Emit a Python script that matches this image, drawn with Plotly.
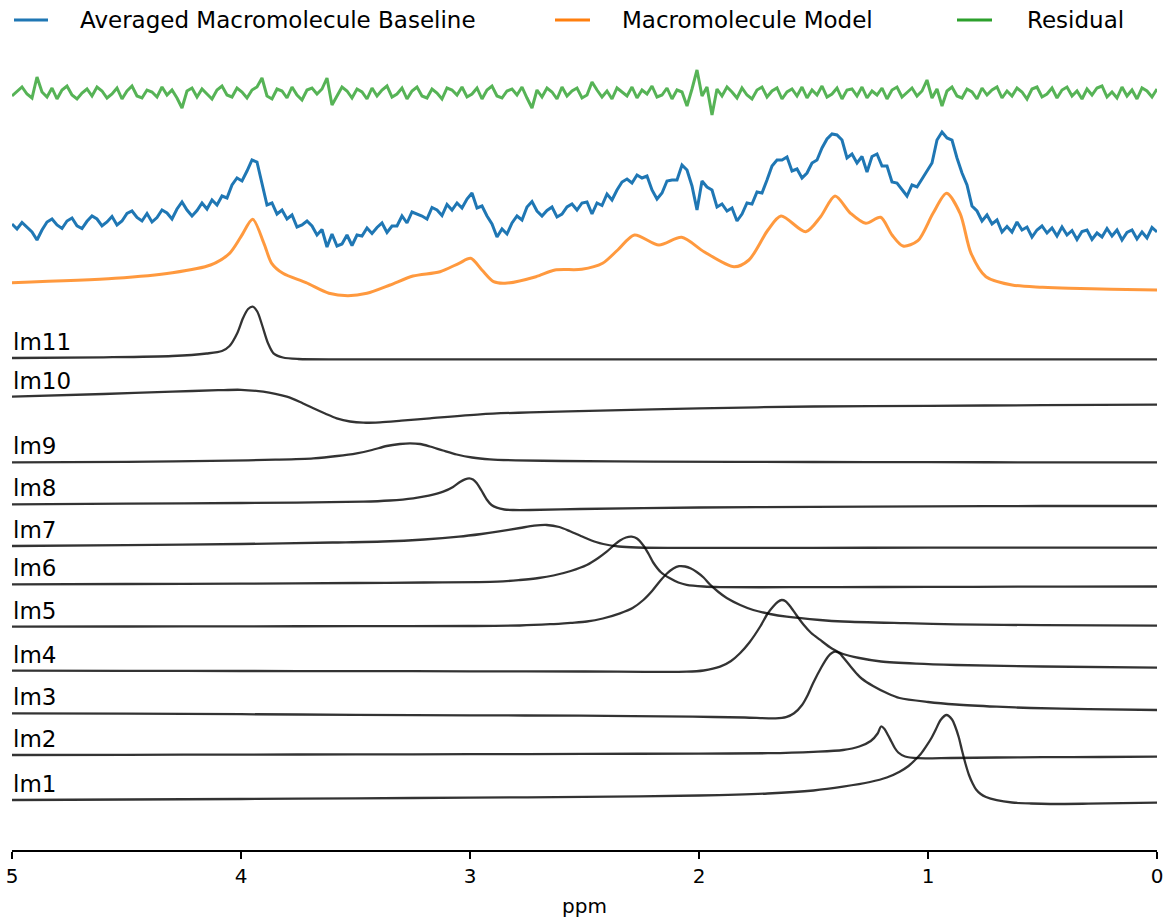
import numpy as np
import plotly.graph_objects as go

# ---------------- data ----------------
# measured spectra on a uniform ppm grid (5 -> 0 ppm)
n_points = 230
ppm_grid = np.linspace(5.0, 0.0, n_points)

baseline_avg = [
    626, 621, 627.5, 623, 618, 610, 620, 628, 631, 625,
    621.5, 629, 632, 624.2, 621.5, 628.7, 634, 631, 624.2, 628,
    633.5, 625, 629, 636.5, 639, 632.5, 629, 636.5, 628, 632.5,
    640, 637, 631, 641, 648, 640, 634, 639.5, 647, 641,
    650, 645, 654, 652, 665, 672, 669, 679, 690, 688,
    665, 645, 647, 636, 640, 631, 635, 623, 625, 629,
    624, 615, 620.5, 603, 616, 604, 606, 615, 604.5, 615,
    614, 622, 616.5, 622.5, 627, 617.5, 624, 624, 634, 627,
    638, 636, 634, 631, 642.5, 640, 634.5, 645.5, 640, 647,
    642, 651, 657, 642, 644, 634, 626, 613, 621, 616,
    627, 634, 630, 643, 648.5, 639, 634, 639.5, 643, 633,
    636, 643, 646, 640, 647, 648, 636, 647, 644.5, 656,
    650, 660, 668, 671, 667, 675, 672, 674, 660, 651,
    657, 669, 670, 670, 685, 680, 664, 640, 669, 663,
    660, 643, 646, 639, 642, 629, 636, 647, 646, 658,
    657, 670, 684, 690, 690, 693, 679, 681, 672, 677,
    687, 690, 702, 711, 716, 715, 710, 692, 696, 687,
    693.5, 678, 693.5, 696, 684, 684, 668, 667, 660, 654,
    665, 663, 671, 679, 687, 710, 718, 712, 710, 692,
    677, 665, 644, 639, 629, 635, 626, 630, 618, 623.5,
    618, 628, 620, 623, 613, 620, 624, 617, 622, 614,
    623, 615, 619.5, 610.5, 618.5, 620, 610.5, 617, 613, 621.5,
    614, 620, 610, 617.5, 620, 611, 618, 612, 622.5, 618,
]

residual = [
    -3, 2, 6, -1, -5, 16, 1, -4, 5, -6,
    3, 7, -2, -6, 0, 4, -3, 6, 2, -5,
    -1, 5, -6, 2, 7, -3, -5, 3, 1, -4,
    6, -2, 3, -5, -15, 2, 5, -4, 4, -1,
    -6, 3, 7, -2, -4, 5, 1, -5, 3, 6,
    15, -3, -6, 4, 2, -5, 6, -2, -7, 3,
    5, -1, 4, 15, -12, -3, 6, 2, -5, 4,
    1, -6, 5, -3, 3, 7, -4, -1, 5, -6,
    2, 6, -3, -5, 4, 0, -6, 5, 3, -2,
    6, -4, -1, 5, -6, 3, 7, -3, -5, 2,
    4, -2, 6, -5, -15, 3, -4, 5, 1, -6,
    6, -3, 2, 5, -5, -2, 11, 3, -4, 2,
    -6, 5, 1, -3, 6, -5, 3, -1, 7, -4,
    -2, 5, -6, 3, 1, -13, 4, 23, -3, 6,
    -22, 4, -3, 6, 1, -5, 5, -2, -6, 3,
    6, -4, 2, 5, -6, 1, 4, -3, 6, -5,
    3, -2, 7, -4, -1, 5, -6, 3, 4, -3,
    6, -5, 2, -2, 5, -6, 3, 6, -4, 1,
    5, -3, 2, 13, -5, 4, -13, 2, 6, -3,
    -5, 4, 1, -6, 5, -2, 3, 6, -5, 2,
    -3, 5, 1, -6, 4, 6, -4, -1, 5, -5,
    3, 6, -3, 2, -6, 4, -2, 5, 7, -4,
    1, -5, 6, -3, 3, -6, 5, 2, -4, 4,
]
residual_offset = 757

model_ppm = [5.0, 4.55, 4.30, 4.133, 4.05, 4.0, 3.949, 3.90, 3.866, 3.817,
             3.716, 3.616, 3.533, 3.45, 3.349, 3.249, 3.131, 3.048, 2.997, 2.948,
             2.897, 2.847, 2.712, 2.629, 2.512, 2.421, 2.355, 2.282, 2.175, 2.076,
             1.978, 1.847, 1.782, 1.699, 1.642, 1.534, 1.469, 1.406, 1.338, 1.272,
             1.207, 1.157, 1.109, 1.044, 0.978, 0.919, 0.86, 0.812, 0.747, 0.633,
             0.5, 0.384, 0.2, 0.0]
model_val = [567.3, 571.7, 577.3, 585, 596.7, 613.3, 630.7, 606.7, 586.7, 576.7,
             567.3, 556.7, 554.3, 556.7, 565, 574, 578.3, 586.7, 591.7, 580,
             568.3, 566.7, 573.3, 580, 580.7, 586.7, 600, 615, 605, 612.7,
             598.3, 583.3, 590, 620, 634, 618.3, 633.3, 654, 636.7, 626.7,
             632.7, 615, 604, 609.3, 636.7, 656.7, 636.7, 596.7, 573.3, 565,
             562.8, 561.7, 560.8, 560]

component_names = ["lm1", "lm2", "lm3", "lm4", "lm5", "lm6",
                   "lm7", "lm8", "lm9", "lm10", "lm11"]

lm11_ppm = [5.0, 4.6, 4.3, 4.15, 4.083, 4.05, 4.016, 3.991, 3.969, 3.949,
            3.929, 3.908, 3.882, 3.858, 3.817, 3.75, 3.5, 3.0, 2.5, 2.0,
            1.5, 1.0, 0.5, 0.0]
lm11_val = [492, 492.7, 494, 496.5, 499, 504, 517, 532, 541, 543.3,
            538.5, 525, 506.7, 496.7, 492.5, 491, 490.7, 490.7, 490.7, 490.7,
            490.7, 490.7, 490.7, 490.7]

lm10_ppm = [5.0, 4.6, 4.3, 4.1, 4.0, 3.903, 3.85, 3.80, 3.742, 3.684,
            3.633, 3.582, 3.524, 3.466, 3.393, 3.3, 3.175, 2.956, 2.738, 2.432,
            2.0, 1.5, 1.0, 0.5, 0.0]
lm10_val = [453.3, 456, 458.3, 459.8, 460.2, 458.3, 456.2, 453.3, 448, 441.7,
            436.5, 431.7, 428.5, 427.3, 427.7, 429.3, 431.7, 435.7, 437.7, 439.3,
            441.7, 443.5, 444.2, 444.8, 445.3]

lm9_ppm = [5.0, 4.5, 4.048, 3.85, 3.684, 3.58, 3.495, 3.428, 3.364, 3.306,
           3.262, 3.218, 3.175, 3.118, 3.058, 2.991, 2.913, 2.8, 2.6, 2.2,
           1.5, 1.0, 0.5, 0.0]
lm9_val = [387.7, 388.2, 389.3, 390.3, 391.7, 394, 396.7, 400, 404, 406,
           406.7, 406, 403.5, 399.5, 395.5, 392.5, 390.7, 389.7, 389, 388.3,
           388, 387.8, 387.7, 387.7]

lm8_ppm = [5.0, 4.5, 4.0, 3.466, 3.35, 3.248, 3.18, 3.117, 3.074, 3.044,
           3.022, 3.003, 2.987, 2.971, 2.95, 2.927, 2.906, 2.883, 2.85, 2.811,
           2.738, 2.52, 2.0, 1.5, 1.0, 0.5, 0.0]
lm8_val = [345.7, 346.3, 347, 348.3, 349.5, 351.7, 354.3, 358.3, 363, 368,
           370.7, 371.7, 370.5, 367, 359.5, 350.5, 345, 342.3, 340.5, 340,
           340, 341, 342.5, 343.2, 343.7, 344, 344]

lm7_ppm = [5.0, 4.5, 4.0, 3.6, 3.38, 3.2, 3.048, 2.95, 2.88, 2.782,
           2.72, 2.665, 2.61, 2.563, 2.52, 2.49, 2.45, 2.418, 2.35, 2.272,
           2.1, 1.5, 1.0, 0.5, 0.0]
lm7_val = [304, 304.8, 306, 307.5, 308.5, 310.5, 313.3, 316, 318.3, 322,
           324.3, 325, 323, 318.8, 314.5, 311.5, 308, 306, 303.5, 302.5,
           302.2, 302.2, 302.3, 302.3, 302.3]

lm6_ppm = [5.0, 4.5, 4.0, 3.5, 3.2, 2.88, 2.782, 2.7, 2.636, 2.56,
           2.49, 2.44, 2.403, 2.37, 2.345, 2.319, 2.294, 2.271, 2.243, 2.22,
           2.20, 2.165, 2.127, 2.09, 2.054, 1.98, 1.908, 1.6, 1.2, 0.8,
           0.4, 0.0]
lm6_val = [265.7, 266, 266.4, 267, 267.5, 268.3, 270, 272, 274.5, 279,
           285, 292, 298.3, 305, 309.5, 312.5, 313.3, 311.5, 304.5, 296,
           287.5, 277.5, 271.7, 267.5, 265.2, 263.5, 262.9, 262.8, 263, 263.2,
           263.4, 263.5]

lm5_ppm = [5.0, 4.5, 4.0, 3.5, 3.0, 2.782, 2.65, 2.56, 2.49, 2.42,
           2.345, 2.29, 2.243, 2.205, 2.17, 2.14, 2.112, 2.087, 2.061, 2.035,
           2.01, 1.98, 1.952, 1.915, 1.879, 1.82, 1.763, 1.69, 1.617, 1.472,
           1.371, 1.1, 0.878, 0.5, 0.0]
lm5_val = [223.3, 223.5, 223.7, 223.8, 224, 224.5, 225.8, 227.2, 228.5, 231.5,
           236.7, 242, 250, 259, 269, 276.5, 281.5, 283.8, 283.5, 281.5,
           278, 272.5, 265.5, 258, 252, 245, 240, 236, 233.3, 230,
           228.5, 226.8, 225.7, 224.8, 224.3]

lm4_ppm = [5.0, 4.5, 4.0, 3.5, 3.0, 2.5, 2.054, 1.98, 1.908, 1.86,
           1.821, 1.78, 1.734, 1.70, 1.676, 1.655, 1.639, 1.622, 1.603, 1.575,
           1.544, 1.51, 1.472, 1.42, 1.371, 1.3, 1.205, 1.05, 0.878, 0.5,
           0.0]
lm4_val = [179.3, 179.2, 179, 178.9, 178.7, 178.5, 178.3, 179.5, 183.3, 189,
           196.7, 207.5, 223, 236.5, 243.5, 248.3, 250, 248.8, 244, 235,
           225.5, 217, 210.3, 201.5, 196, 192, 188.5, 186.3, 185, 183.5,
           182.3]

lm3_ppm = [5.0, 4.5, 4.0, 3.5, 3.0, 2.52, 2.027, 1.8, 1.666, 1.62,
           1.585, 1.55, 1.525, 1.502, 1.465, 1.437, 1.42, 1.404, 1.385, 1.37,
           1.338, 1.31, 1.29, 1.24, 1.18, 1.124, 1.0, 0.878, 0.7, 0.55,
           0.3, 0.0]
lm3_val = [136.7, 136.3, 135.8, 135.2, 134.7, 134.3, 133.3, 132.5, 131.7, 132.8,
           136.7, 145, 155, 166.7, 183, 193.3, 197, 198.3, 196.5, 192.5,
           183.5, 176, 171.5, 164, 157, 152, 148, 145.5, 143.3, 142,
           140.8, 140]

lm2_ppm = [5.0, 4.5, 4.0, 3.5, 3.0, 2.5, 2.0, 1.699, 1.5, 1.371,
           1.30, 1.25, 1.22, 1.205, 1.19, 1.175, 1.16, 1.145, 1.13, 1.10,
           1.044, 0.9, 0.7, 0.5, 0.25, 0.0]
lm2_val = [95, 95.2, 95.4, 95.6, 95.8, 96.1, 96.4, 96.8, 98.2, 100,
           103.5, 109, 116.5, 123.5, 121, 115, 108.5, 102, 97.5, 93.5,
           91.8, 92, 92.5, 92.8, 93, 93.3]

lm1_ppm = [5.0, 4.5, 4.0, 3.5, 3.0, 2.5, 2.0, 1.7, 1.5, 1.371,
           1.253, 1.18, 1.124, 1.085, 1.057, 1.03, 1.009, 0.985, 0.966, 0.945,
           0.919, 0.895, 0.882, 0.866, 0.852, 0.836, 0.821, 0.805, 0.79, 0.77,
           0.747, 0.7, 0.633, 0.55, 0.467, 0.3, 0.15, 0.0]
lm1_val = [50, 50.5, 51, 51.7, 52.3, 53.2, 54.5, 56.5, 59.5, 63.3,
           68, 72.5, 78.3, 84, 90, 96.5, 103.3, 112, 120.5, 130,
           135, 130.5, 124, 113, 100, 86, 75, 66.5, 60.5, 56,
           53, 49.8, 47.5, 46.5, 46, 46.3, 46.8, 47.3]

components = [
    (lm1_ppm, lm1_val), (lm2_ppm, lm2_val), (lm3_ppm, lm3_val),
    (lm4_ppm, lm4_val), (lm5_ppm, lm5_val), (lm6_ppm, lm6_val),
    (lm7_ppm, lm7_val), (lm8_ppm, lm8_val), (lm9_ppm, lm9_val),
    (lm10_ppm, lm10_val), (lm11_ppm, lm11_val),
]

legend_labels = ["Averaged Macromolecule Baseline", "Macromolecule Model", "Residual"]
x_ticks = [5, 4, 3, 2, 1, 0]

# ---------------- figure ----------------
BLUE = "#1f77b4"
ORANGE = "#ff7f0e"
GREEN = "#2ca02c"
FONT = "DejaVu Sans"

W, H = 1169, 921
ML, MR, MT, MB = 12, 12, 40, 71
PW, PH = W - ML - MR, H - MT - MB


def px_to_paper_x(px):
    return (px - ML) / PW


def py_to_paper_y(py):
    return (H - MB - py) / PH


fig = go.Figure()

fig.add_trace(go.Scatter(
    x=ppm_grid, y=np.array(residual) + residual_offset, mode="lines",
    name=legend_labels[2],
    line=dict(color="rgba(44,160,44,0.8)", width=3), showlegend=False,
    hoverinfo="skip"))
fig.add_trace(go.Scatter(
    x=ppm_grid, y=baseline_avg, mode="lines", name=legend_labels[0],
    line=dict(color=BLUE, width=3), showlegend=False, hoverinfo="skip"))
fig.add_trace(go.Scatter(
    x=model_ppm, y=model_val, mode="lines", name=legend_labels[1],
    line=dict(color="rgba(255,127,14,0.8)", width=3, shape="spline", smoothing=0.8),
    showlegend=False, hoverinfo="skip"))

for name, (xs, ys) in zip(component_names, components):
    fig.add_trace(go.Scatter(
        x=xs, y=ys, mode="lines", name=name,
        line=dict(color="rgba(0,0,0,0.8)", width=2.3, shape="spline", smoothing=0.8),
        showlegend=False, hoverinfo="skip"))
    fig.add_annotation(
        x=0, xref="paper", xanchor="left", y=ys[0] + 2, yref="y", yanchor="bottom",
        text=name, showarrow=False, font=dict(family=FONT, size=23, color="black"),
        borderpad=0)

# legend drawn as line samples + text (matplotlib-style expanded legend)
legend_items = [
    (legend_labels[0], BLUE, 14, 48, 79),
    (legend_labels[1], ORANGE, 555, 590, 621),
    (legend_labels[2], GREEN, 957, 992, 1026),
]
leg_y = py_to_paper_y(20)
for label, col, a, b, t in legend_items:
    fig.add_shape(type="line", xref="paper", yref="paper",
                  x0=px_to_paper_x(a), x1=px_to_paper_x(b), y0=leg_y, y1=leg_y,
                  line=dict(color=col, width=3))
    fig.add_annotation(x=px_to_paper_x(t), y=leg_y, xref="paper", yref="paper",
                       xanchor="left", yanchor="middle", text=label, showarrow=False,
                       borderpad=0, font=dict(family=FONT, size=23, color="black"))

fig.update_layout(
    width=W, height=H,
    margin=dict(l=ML, r=MR, t=MT, b=MB, autoexpand=False),
    showlegend=False,
    plot_bgcolor="white", paper_bgcolor="white",
    font=dict(family=FONT, color="black"),
    xaxis=dict(range=[5, 0], tickvals=x_ticks, ticktext=[str(t) for t in x_ticks],
               showline=True, linecolor="black", linewidth=2, ticks="outside",
               ticklen=7, tickwidth=2, tickcolor="black", showgrid=False, zeroline=False,
               automargin=False,
               tickfont=dict(family=FONT, size=20, color="black"),
               title=dict(text="ppm", font=dict(family=FONT, size=20, color="black"),
                          standoff=12)),
    yaxis=dict(range=[0, PH], visible=False, showgrid=False, zeroline=False,
               automargin=False),
)

fig.write_html("out.html", config={"displayModeBar": False},
               post_script="document.body.style.margin='0';")
